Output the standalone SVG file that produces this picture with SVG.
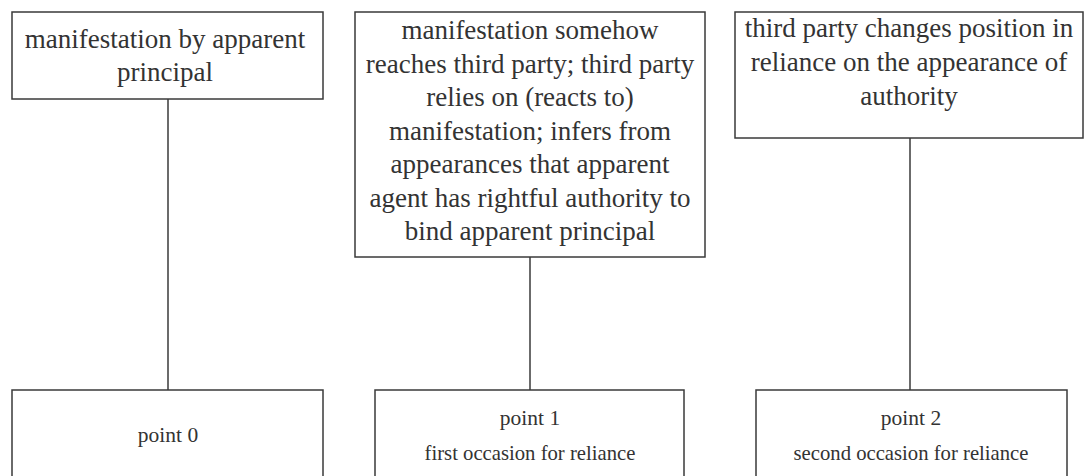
<svg xmlns="http://www.w3.org/2000/svg" width="1084" height="476" viewBox="0 0 1084 476">
<style>
.box{fill:#fff;stroke:#3a3a3a;stroke-width:1.5}
.edge{stroke:#3a3a3a;stroke-width:1.5;fill:none}
</style>
<rect width="1084" height="476" fill="#fff"/>
<g id="connectors">
<line class="edge" x1="168" y1="99" x2="168" y2="390"/>
<line class="edge" x1="530" y1="257" x2="530" y2="390"/>
<line class="edge" x1="910" y1="138" x2="910" y2="390"/>
</g>
<g id="n-manifestation" font-family="Liberation Serif" font-size="27" fill="#333" text-anchor="middle">
<rect class="box" x="12" y="12" width="311" height="87"/>
<text x="165" y="48">manifestation by apparent</text>
<text x="165" y="81">principal</text>
</g>
<g id="n-reaches" font-family="Liberation Serif" font-size="27" fill="#333" text-anchor="middle">
<rect class="box" x="355" y="12" width="350" height="245"/>
<text x="530" y="39">manifestation somehow</text>
<text x="530" y="72.5">reaches third party; third party</text>
<text x="530" y="106">relies on (reacts to)</text>
<text x="530" y="139.5">manifestation; infers from</text>
<text x="530" y="173">appearances that apparent</text>
<text x="530" y="206.5">agent has rightful authority to</text>
<text x="530" y="240">bind apparent principal</text>
</g>
<g id="n-changes" font-family="Liberation Serif" font-size="27" fill="#333" text-anchor="middle">
<rect class="box" x="735" y="12" width="348" height="126"/>
<text x="909" y="37">third party changes position in</text>
<text x="909" y="71">reliance on the appearance of</text>
<text x="909" y="105">authority</text>
</g>
<g id="n-point0" font-family="Liberation Serif" font-size="21.5" fill="#333" text-anchor="middle">
<rect class="box" x="12" y="390" width="311" height="110"/>
<text x="168" y="442">point 0</text>
</g>
<g id="n-point1" font-family="Liberation Serif" font-size="21.5" fill="#333" text-anchor="middle">
<rect class="box" x="375" y="390" width="309" height="110"/>
<text x="530" y="425">point 1</text>
<text x="530" y="460" font-size="20.7">first occasion for reliance</text>
</g>
<g id="n-point2" font-family="Liberation Serif" font-size="21.5" fill="#333" text-anchor="middle">
<rect class="box" x="756" y="390" width="311" height="110"/>
<text x="911" y="425">point 2</text>
<text x="911" y="460" font-size="20.7">second occasion for reliance</text>
</g>
</svg>
